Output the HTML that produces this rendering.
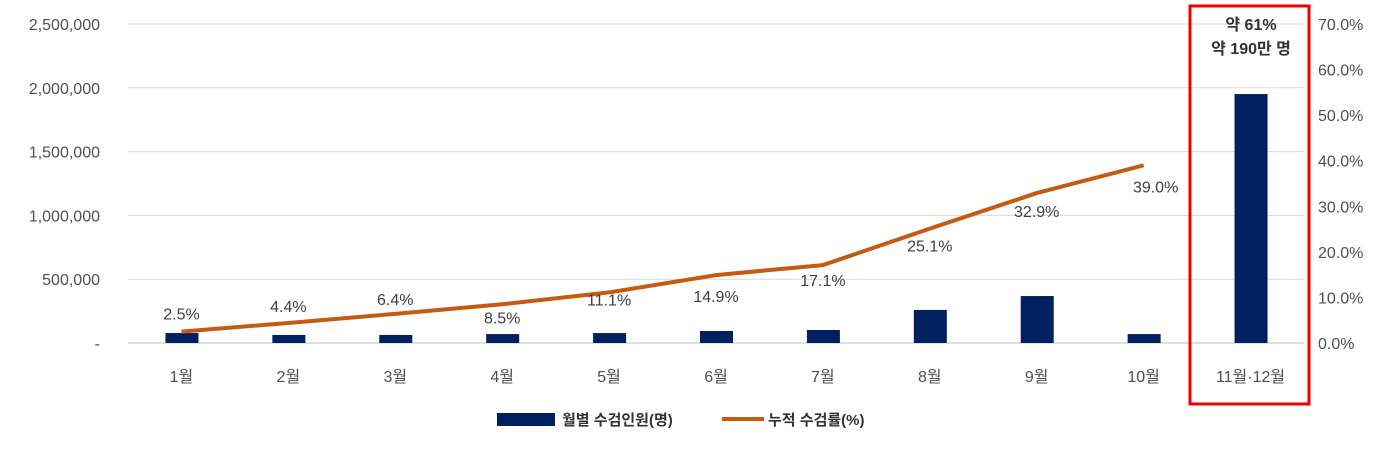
<!DOCTYPE html>
<html><head><meta charset="utf-8">
<style>
body{margin:0;background:#fff;}
svg text{font-family:"Liberation Sans","Noto Sans CJK KR",sans-serif;}
</style></head>
<body>
<svg id="chart" width="1388" height="452" viewBox="0 0 1388 452" xmlns="http://www.w3.org/2000/svg">
<g id="grid"></g>
<g id="laxis"></g>
<g id="raxis"></g>
<g id="bars"></g>
<g id="line"></g>
<g id="xaxis"></g>
<rect x="1190" y="6" width="119" height="398" fill="none" stroke="#ee0000" stroke-width="3"/>
<text x="1251" y="30" text-anchor="middle" font-size="16" font-weight="bold" fill="#333">약 61%</text>
<text x="1251" y="54" text-anchor="middle" font-size="16" font-weight="bold" fill="#333">약 190만 명</text>
<g>
<rect x="497" y="413" width="58" height="13" fill="#002060"/>
<text x="562" y="425" font-size="15" font-weight="bold" fill="#333">월별 수검인원(명)</text>
<line x1="722" y1="419" x2="764" y2="419" stroke="#C55A11" stroke-width="4"/>
<text x="768" y="425" font-size="15" font-weight="bold" fill="#333">누적 수검률(%)</text>
</g>
</svg>
<script>
const categories=["1월","2월","3월","4월","5월","6월","7월","8월","9월","10월","11월·12월"];
const monthlyCount=[78000,63000,63000,70000,78000,94000,102000,259000,368000,70000,1951000];
const cumulativeRate=[2.5,4.4,6.4,8.5,11.1,14.9,17.1,25.1,32.9,39.0];
const rateLabels=["2.5%","4.4%","6.4%","8.5%","11.1%","14.9%","17.1%","25.1%","32.9%","39.0%"];
const leftTicks=[0,500000,1000000,1500000,2000000,2500000];
const leftTickLabels=["-","500,000","1,000,000","1,500,000","2,000,000","2,500,000"];
const rightTicks=[0,10,20,30,40,50,60,70];
/* label placement offsets (style, not data) */
const labelDy=[-12,-11,-9,19,13,27,21,23,24,27];
const labelDx=[0,0,0,0,0,0,0,0,0,12];

const NS="http://www.w3.org/2000/svg";
const X0=128,X1=1304,Y0=343,Y1=24;
const band=(X1-X0)/categories.length;
const xc=i=>X0+band*(i+0.5);
const yL=v=>Y0-(v/2500000)*(Y0-Y1);
const yR=v=>Y0-(v/70)*(Y0-Y1);
function mk(tag,attrs,parent,txt){const e=document.createElementNS(NS,tag);for(const k in attrs)e.setAttribute(k,attrs[k]);if(txt!==undefined)e.textContent=txt;document.getElementById(parent).appendChild(e);return e;}

leftTicks.forEach((t,i)=>{
  const g=mk('line',{x1:X0,x2:X1,y1:yL(t),y2:yL(t),stroke:t===0?'#bfbfbf':'#d9d9d9','stroke-width':1},'grid');
  
  
  const l=mk('text',{x:100,y:yL(t)+6,'text-anchor':'end','font-size':16,fill:'#505050'},'laxis',leftTickLabels[i]);
  
  
});
rightTicks.forEach(t=>{
  const l=mk('text',{x:1318,y:yR(t)+6,'font-size':16,fill:'#505050'},'raxis',t.toFixed(1)+'%');
  
  
});
categories.forEach((c,i)=>{
  const b=mk('rect',{x:xc(i)-16,y:yL(monthlyCount[i]),width:33,height:Y0-yL(monthlyCount[i]),fill:'#002060'},'bars');
  
  
  const t=mk('text',{x:xc(i),y:382,'text-anchor':'middle','font-size':16,fill:'#505050'},'xaxis',c);
  
  
});
const pts=cumulativeRate.map((v,i)=>xc(i)+','+yR(v)).join(' ');
const pl=mk('polyline',{points:pts,fill:'none',stroke:'#C55A11','stroke-width':4,'stroke-linejoin':'round'},'line');


cumulativeRate.forEach((v,i)=>{
  const t=mk('text',{x:xc(i)+labelDx[i],y:yR(v)+labelDy[i],'text-anchor':'middle','font-size':16,fill:'#404040'},'line',rateLabels[i]);
  
  
});
</script>
</body></html>
